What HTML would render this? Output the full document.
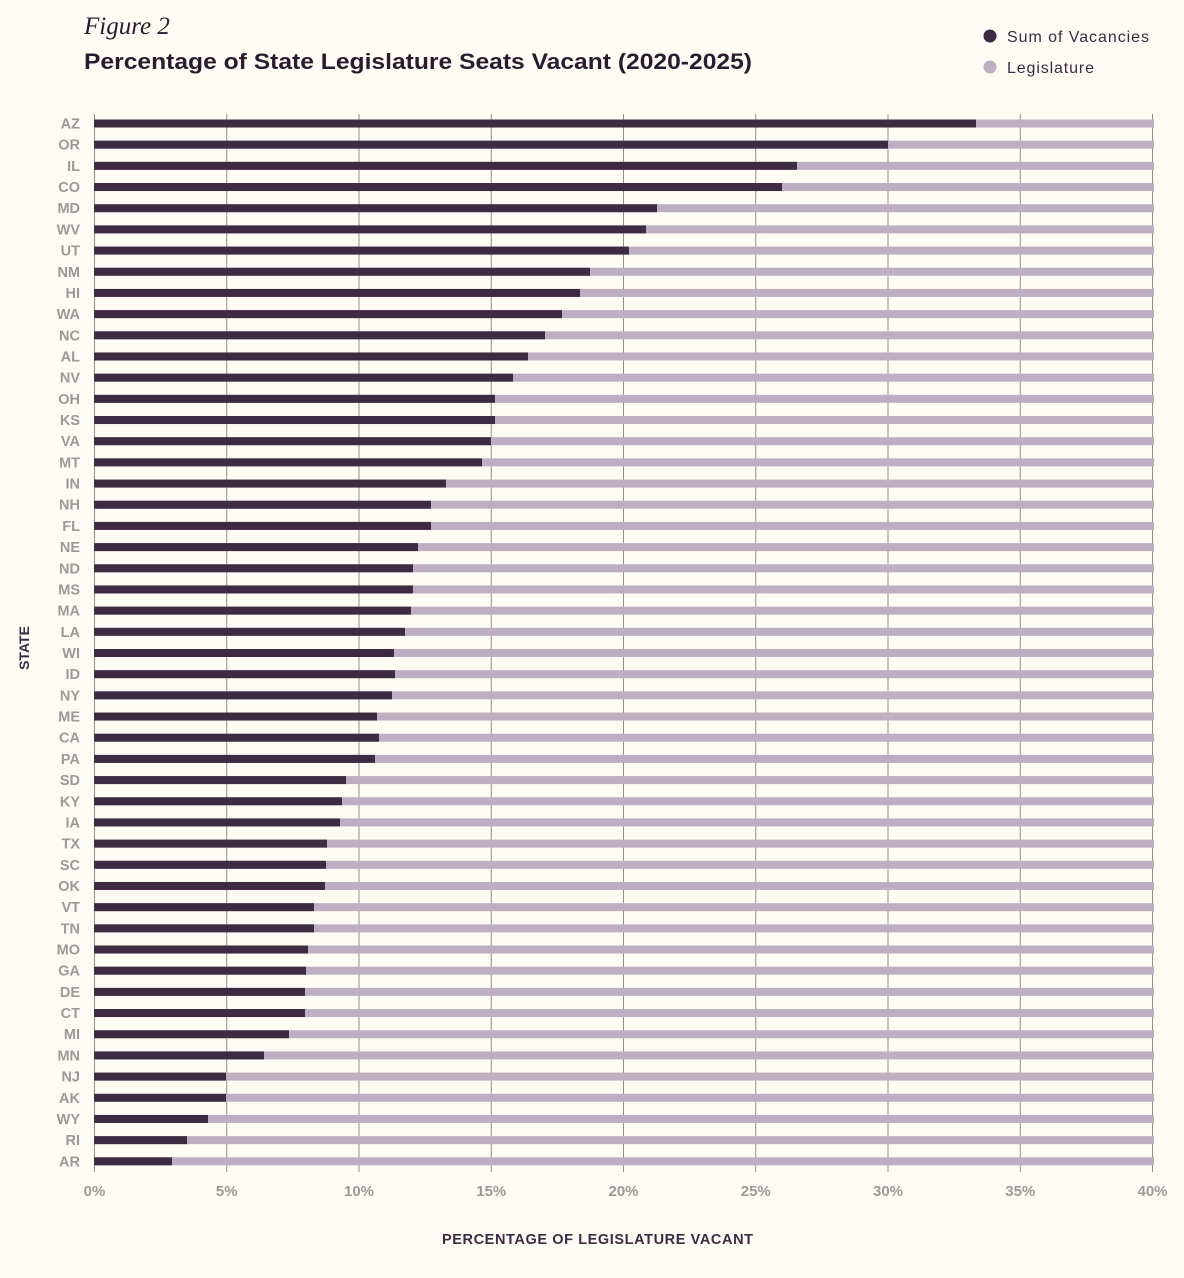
<!DOCTYPE html>
<html><head><meta charset="utf-8"><style>
body{margin:0;background:#fefbf4;}
svg{display:block;font-family:"Liberation Sans",sans-serif;}
</style></head><body>
<svg width="1184" height="1278" xmlns="http://www.w3.org/2000/svg">
<rect width="1184" height="1278" fill="#fefbf4"/>
<text x="84" y="34" font-family="Liberation Serif,serif" font-style="italic" font-size="25" fill="#2a1b2e">Figure 2</text>
<text x="84" y="69" font-size="22" font-weight="bold" fill="#2a1b2e" textLength="668" lengthAdjust="spacingAndGlyphs">Percentage of State Legislature Seats Vacant (2020-2025)</text>
<circle cx="990" cy="36" r="6.5" fill="#3e2a42"/>
<text x="1007" y="42" font-size="16" fill="#3e2a42" textLength="142">Sum of Vacancies</text>
<circle cx="990" cy="67" r="6.5" fill="#bfadc2"/>
<text x="1007" y="73" font-size="16" fill="#3e2a42" textLength="87">Legislature</text>
<text transform="translate(29,648) rotate(-90)" text-anchor="middle" font-size="14" font-weight="bold" fill="#3e2a42">STATE</text>
<text x="442" y="1244" font-size="14.5" font-weight="bold" fill="#3e2a42" textLength="311">PERCENTAGE OF LEGISLATURE VACANT</text>
<g id="grid" stroke="#8f8f8f" stroke-width="1"></g>
<g id="bars"></g>
<g id="labels" font-size="14.5" font-weight="bold" fill="#9a9a9a" text-anchor="end"></g>
<g id="ticks" font-size="15" font-weight="bold" fill="#9a9a9a" text-anchor="middle"></g>
</svg>
<script>
var ns="http://www.w3.org/2000/svg";
function el(p,t,a,txt){var e=document.createElementNS(ns,t);for(var k in a)e.setAttribute(k,a[k]);if(txt)e.textContent=txt;document.getElementById(p).appendChild(e);}
var x0=94.5,pp=26.45;
for(var i=0;i<=8;i++){var x=x0+i*5*pp;el("grid","line",{x1:x,x2:x,y1:114,y2:1172});el("ticks","text",{x:x,y:1196},(i*5)+"%");}
var d=[["AZ",976],["OR",888],["IL",797],["CO",782],["MD",657],["WV",646],["UT",629],["NM",590],["HI",580],["WA",562],["NC",545],["AL",528],["NV",513],["OH",495],["KS",495],["VA",491],["MT",482],["IN",446],["NH",431],["FL",431],["NE",418],["ND",413],["MS",413],["MA",411],["LA",405],["WI",394],["ID",395],["NY",392],["ME",377],["CA",379],["PA",375],["SD",346],["KY",342],["IA",340],["TX",327],["SC",326],["OK",325],["VT",314],["TN",314],["MO",308],["GA",306],["DE",305],["CT",305],["MI",289],["MN",264],["NJ",226],["AK",226],["WY",208],["RI",187],["AR",172]];
for(var i=0;i<d.length;i++){var y=123.5+i*21.18;
el("bars","rect",{x:94,y:y-4,width:1060,height:8,fill:"#bfadc2"});
el("bars","rect",{x:94,y:y-4,width:d[i][1]-94,height:8,fill:"#3e2a42"});
el("labels","text",{x:80,y:y+5},d[i][0]);}
</script>
</body></html>
